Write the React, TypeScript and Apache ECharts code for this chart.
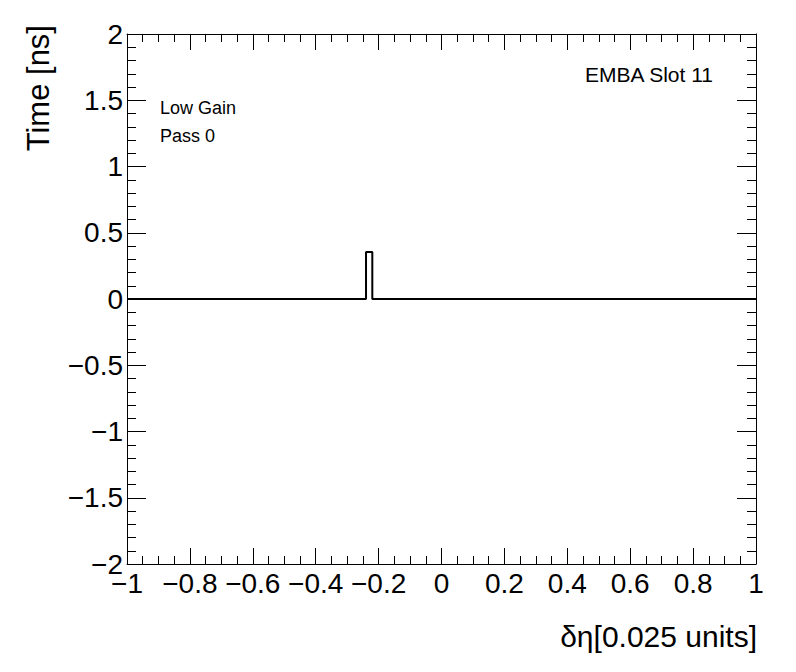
import React, { useEffect, useRef } from "react";
import * as echarts from "echarts";

// Histogram range and the non-empty bins (all other bins are 0)
const xRange = [-1, 1];
const yRange = [-2, 2];
const binLow = [-0.24];
const binHigh = [-0.22];
const binContent = [0.355];

const xTitle = "δη[0.025 units]";
const yTitle = "Time [ns]";
const labelLines = ["Low Gain", "Pass 0"];
const slotLabel = "EMBA Slot 11";

const FONT = "'Liberation Sans', Arial, Helvetica, sans-serif";

function fmt(v: number) {
  const r = Math.round(v * 10) / 10;
  return String(r).replace("-", "\u2212");
}

function outline(): [number, number][] {
  const pts: [number, number][] = [[xRange[0], 0]];
  for (let i = 0; i < binLow.length; i++) {
    pts.push([binLow[i], 0]);
    pts.push([binLow[i], binContent[i]]);
    pts.push([binHigh[i], binContent[i]]);
    pts.push([binHigh[i], 0]);
  }
  pts.push([xRange[1], 0]);
  return pts;
}

export default function App() {
  const ref = useRef<HTMLDivElement>(null);
  useEffect(() => {
    if (!ref.current) return;
    const chart = echarts.init(ref.current, undefined, { renderer: "svg" });
    const axisLine = { show: true, onZero: false, lineStyle: { color: "#000", width: 1 } };
    const xBase = {
      type: "value" as const,
      min: xRange[0],
      max: xRange[1],
      interval: 0.2,
      axisLine,
      splitLine: { show: false },
      axisTick: { show: true, inside: true, length: 16, lineStyle: { color: "#000", width: 1 } },
      minorTick: { show: true, splitNumber: 4, length: 8, lineStyle: { color: "#000", width: 1 } },
    };
    const yBase = {
      type: "value" as const,
      min: yRange[0],
      max: yRange[1],
      interval: 0.5,
      axisLine,
      splitLine: { show: false },
      axisTick: { show: true, inside: true, length: 19, lineStyle: { color: "#000", width: 1 } },
      minorTick: { show: true, splitNumber: 5, length: 9, lineStyle: { color: "#000", width: 1 } },
    };
    chart.setOption({
      animation: false,
      backgroundColor: "#fff",
      grid: { left: 127, right: 40, top: 34, bottom: 108, containLabel: false },
      xAxis: [
        {
          ...xBase,
          position: "bottom",
          axisLabel: {
            show: true,
            formatter: fmt,
            color: "#000",
            fontSize: 28,
            fontFamily: FONT,
            margin: 5,
            showMinLabel: true,
            showMaxLabel: true,
          },
        },
        { ...xBase, position: "top", axisLabel: { show: false } },
      ],
      yAxis: [
        {
          ...yBase,
          position: "left",
          axisLabel: {
            show: true,
            formatter: fmt,
            color: "#000",
            fontSize: 28,
            fontFamily: FONT,
            margin: 4,
            showMinLabel: true,
            showMaxLabel: true,
          },
        },
        { ...yBase, position: "right", axisLabel: { show: false } },
      ],
      series: [
        {
          type: "line",
          xAxisIndex: 0,
          yAxisIndex: 0,
          data: outline(),
          showSymbol: false,
          symbol: "none",
          lineStyle: { color: "#000", width: 2 },
          clip: true,
        },
      ],
      graphic: [
        {
          type: "text",
          x: 38,
          y: 25,
          rotation: Math.PI / 2,
          style: {
            text: yTitle,
            fontSize: 31,
            fontFamily: FONT,
            fill: "#000",
            textAlign: "right",
            textVerticalAlign: "middle",
          },
        },
        {
          type: "text",
          x: 757,
          y: 636,
          style: {
            text: xTitle,
            fontSize: 30,
            fontFamily: FONT,
            fill: "#000",
            textAlign: "right",
            textVerticalAlign: "middle",
          },
        },
        {
          type: "text",
          x: 160,
          y: 108,
          style: {
            text: labelLines[0],
            fontSize: 18,
            fontFamily: FONT,
            fill: "#000",
            textAlign: "left",
            textVerticalAlign: "middle",
          },
        },
        {
          type: "text",
          x: 160,
          y: 136,
          style: {
            text: labelLines[1],
            fontSize: 18,
            fontFamily: FONT,
            fill: "#000",
            textAlign: "left",
            textVerticalAlign: "middle",
          },
        },
        {
          type: "text",
          x: 713,
          y: 74,
          style: {
            text: slotLabel,
            fontSize: 21,
            fontFamily: FONT,
            fill: "#000",
            textAlign: "right",
            textVerticalAlign: "middle",
          },
        },
      ],
    });
    return () => chart.dispose();
  }, []);
  return (
    <div
      ref={ref}
      style={{ position: "fixed", left: 0, top: 0, width: 796, height: 672, background: "#fff" }}
    />
  );
}
